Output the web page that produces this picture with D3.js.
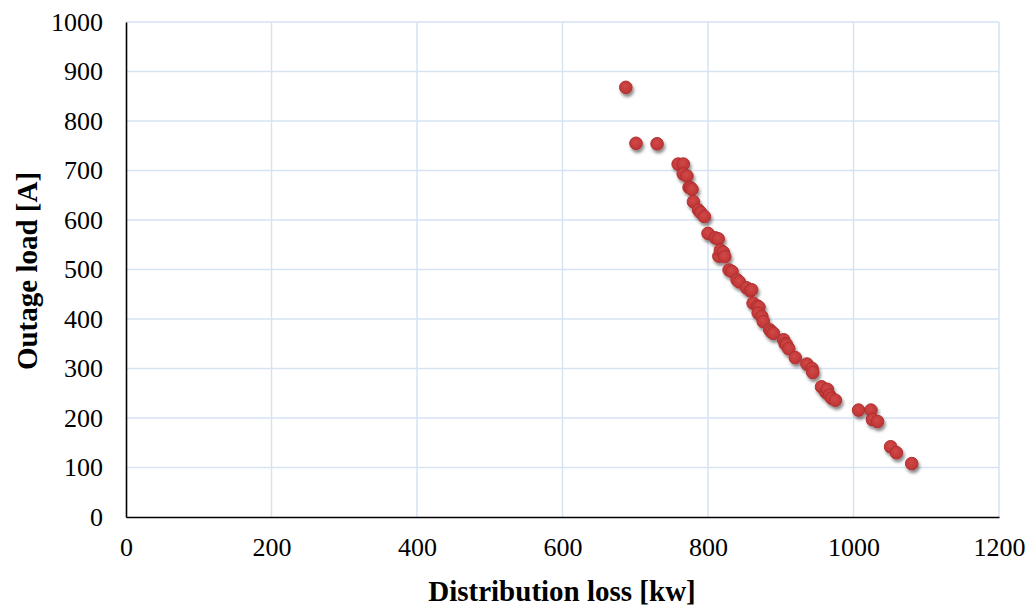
<!DOCTYPE html>
<html>
<head>
<meta charset="utf-8">
<script src="https://cdn.jsdelivr.net/npm/d3@7"></script>
<style>
  html, body { margin: 0; padding: 0; background: #fff; }
  svg { display: block; }
</style>
</head>
<body>
<svg id="chart" width="1034" height="610"></svg>
<script>
// Distribution loss [kW] for each outage case
const lossKw = [
  687, 701, 730, 759, 766, 766, 771, 774, 776, 778, 780, 787, 790, 795,
  800, 810, 814, 815, 817, 821, 823, 829, 833, 840, 843, 853, 858, 860,
  862, 868, 870, 869, 874, 876, 885, 887, 890, 904, 906, 908, 911, 920,
  936, 943, 944, 956, 962, 964, 967, 970, 975, 1007, 1024, 1026, 1033,
  1051, 1059, 1080
];
// Outage load [A] for the same cases
const outageLoadA = [
  868, 755, 754, 713, 713, 693, 689, 666, 665, 662, 637, 620, 615, 607,
  573, 564, 562, 527, 539, 535, 526, 499, 496, 479, 475, 463, 457, 459,
  432, 426, 424, 412, 405, 395, 378, 374, 371, 358, 350, 348, 340, 322,
  309, 300, 292, 263, 252, 258, 246, 240, 236, 216, 216, 197, 193,
  142, 130, 108
];
const xTicks = [0, 200, 400, 600, 800, 1000, 1200];
const yTicks = [0, 100, 200, 300, 400, 500, 600, 700, 800, 900, 1000];
const xTitle = "Distribution loss [kw]";
const yTitle = "Outage load [A]";

const points = lossKw.map((x, i) => ({ x, y: outageLoadA[i] }));
const serif = "'Liberation Serif', 'Times New Roman', serif";

const svg = d3.select("#chart");
const plotLeft = 126, plotRight = 999, plotTop = 22, plotBottom = 517;

const x = d3.scaleLinear().domain([0, 1200]).range([plotLeft, plotRight]);
const y = d3.scaleLinear().domain([0, 1000]).range([plotBottom, plotTop]);

// marker shading and drop shadow
const defs = svg.append("defs");
const grad = defs.append("radialGradient").attr("id", "dotFill")
  .attr("cx", "45%").attr("cy", "40%").attr("r", "60%");
grad.append("stop").attr("offset", "0%").attr("stop-color", "#d24848");
grad.append("stop").attr("offset", "100%").attr("stop-color", "#bb3434");
const shadow = defs.append("filter").attr("id", "dotShadow")
  .attr("x", "-60%").attr("y", "-60%").attr("width", "220%").attr("height", "220%");
shadow.append("feDropShadow").attr("dx", 1.5).attr("dy", 3).attr("stdDeviation", 1.8)
  .attr("flood-color", "#000").attr("flood-opacity", 0.45);

// gridlines
svg.append("g").selectAll("line").data(xTicks.filter(d => d > 0)).join("line")
  .attr("x1", d => x(d)).attr("x2", d => x(d))
  .attr("y1", plotTop).attr("y2", plotBottom)
  .attr("stroke", "#d6e3f3").attr("stroke-width", 1.5);
svg.append("g").selectAll("line").data(yTicks.filter(d => d > 0)).join("line")
  .attr("x1", plotLeft).attr("x2", plotRight)
  .attr("y1", d => y(d)).attr("y2", d => y(d))
  .attr("stroke", "#d6e3f3").attr("stroke-width", 1.5);

// axes
const fmt = d3.format("d");
const xAxis = svg.append("g").attr("transform", `translate(0,${plotBottom})`)
  .call(d3.axisBottom(x).tickValues(xTicks).tickFormat(fmt).tickSize(0).tickPadding(21));
const yAxis = svg.append("g").attr("transform", `translate(${plotLeft},0)`)
  .call(d3.axisLeft(y).tickValues(yTicks).tickFormat(fmt).tickSize(0).tickPadding(23));
[xAxis, yAxis].forEach(g => {
  g.attr("font-family", serif).attr("font-size", 26);
  g.select(".domain").attr("stroke", "#000").attr("stroke-width", 1.6);
  g.selectAll(".tick text").attr("fill", "#000");
});
xAxis.selectAll(".tick text").attr("dy", "0.71em");

// points
svg.append("g").attr("filter", "url(#dotShadow)")
  .selectAll("circle").data(points).join("circle")
  .attr("cx", d => x(d.x)).attr("cy", d => y(d.y)).attr("r", 6.3)
  .attr("fill", "url(#dotFill)")
  .attr("stroke", "#b22f2f").attr("stroke-width", 1);

// axis titles
svg.append("text")
  .attr("x", 562).attr("y", 601)
  .attr("text-anchor", "middle")
  .attr("font-family", serif)
  .attr("font-weight", "bold").attr("font-size", 29)
  .text(xTitle);
svg.append("text")
  .attr("transform", `translate(37,271) rotate(-90)`)
  .attr("text-anchor", "middle")
  .attr("font-family", serif)
  .attr("font-weight", "bold").attr("font-size", 29)
  .text(yTitle);
</script>
</body>
</html>
